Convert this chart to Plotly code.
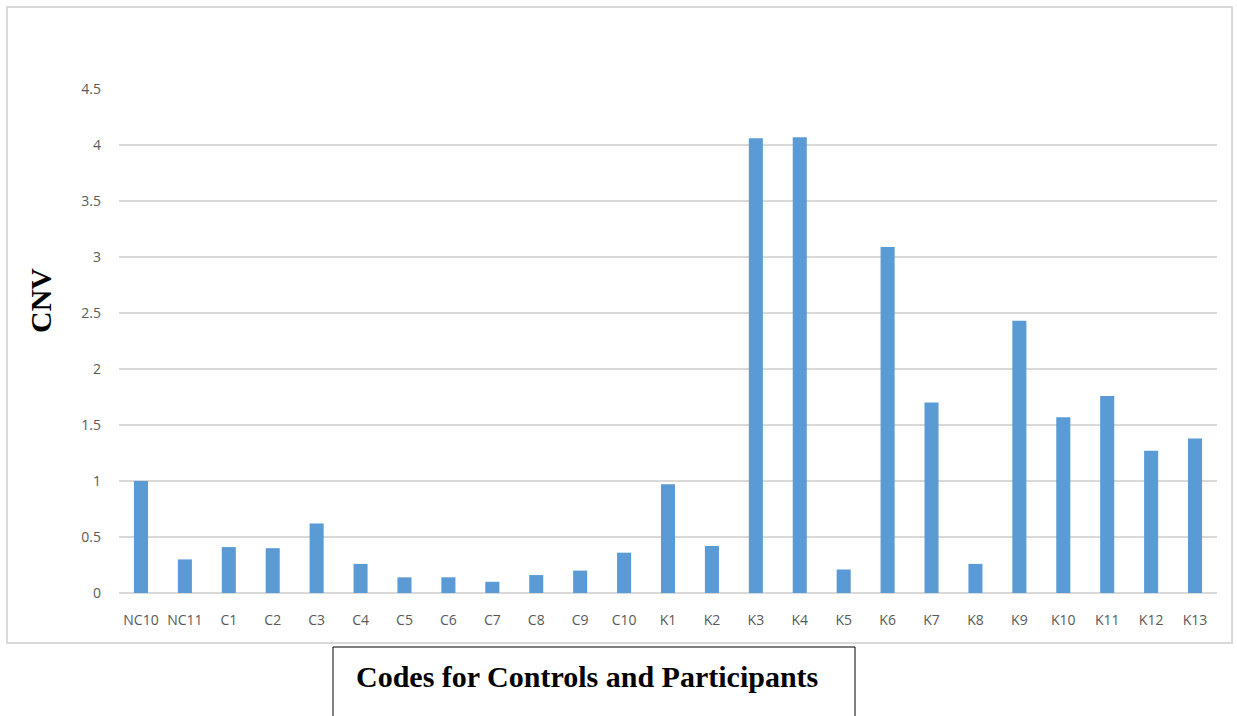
import plotly.graph_objects as go

codes = ["NC10", "NC11", "C1", "C2", "C3", "C4", "C5", "C6", "C7", "C8", "C9", "C10",
         "K1", "K2", "K3", "K4", "K5", "K6", "K7", "K8", "K9", "K10", "K11", "K12", "K13"]
cnv = [1.00, 0.30, 0.41, 0.40, 0.62, 0.26, 0.14, 0.14, 0.10, 0.16, 0.20, 0.36,
       0.97, 0.42, 4.06, 4.07, 0.21, 3.09, 1.70, 0.26, 2.43, 1.57, 1.76, 1.27, 1.38]
y_ticks = [0, 0.5, 1, 1.5, 2, 2.5, 3, 3.5, 4, 4.5]
y_tick_text = ["0", "0.5", "1", "1.5", "2", "2.5", "3", "3.5", "4", "4.5"]

W, H = 1237, 716
L, R, T, B = 119, 20, 89, 123
pw, ph = W - L - R, H - T - B


def px_x(p):
    return (p - L) / pw


def px_y(p):
    return (H - B - p) / ph


tick_font = dict(family="Open Sans, sans-serif", size=14, color="#595959")
serif_bold = "Liberation Serif, Times New Roman, serif"

fig = go.Figure(go.Bar(
    x=codes, y=cnv,
    marker=dict(color="#5b9bd5", line=dict(width=0)),
    width=0.32,
))

fig.update_layout(
    width=W, height=H,
    margin=dict(l=L, r=R, t=T, b=B, autoexpand=False),
    paper_bgcolor="white", plot_bgcolor="white",
    showlegend=False,
    xaxis=dict(
        type="category", showgrid=False, showline=False, ticks="",
        tickfont=tick_font, ticklabelstandoff=17, zeroline=False,
        range=[-0.5, len(codes) - 0.5],
    ),
    yaxis=dict(
        range=[0, 4.5], tickvals=y_ticks, ticktext=y_tick_text,
        showgrid=True, gridcolor="#d9d9d9", gridwidth=1.5,
        zeroline=True, zerolinecolor="#d9d9d9", zerolinewidth=1.5,
        showline=False, ticks="", tickfont=tick_font, ticklabelstandoff=17,
    ),
    shapes=[
        # outer chart border
        dict(type="rect", xref="paper", yref="paper",
             x0=px_x(7), x1=px_x(1232), y0=px_y(643), y1=px_y(7),
             line=dict(color="#d9d9d9", width=2), layer="below"),
        # caption box below the axis
        dict(type="rect", xref="paper", yref="paper",
             x0=px_x(333), x1=px_x(855), y0=px_y(647), y1=px_y(740),
             line=dict(color="black", width=1)),
    ],
    annotations=[
        dict(text="<b>CNV</b>", xref="paper", yref="paper",
             x=px_x(40), y=px_y(301), textangle=-90, showarrow=False,
             font=dict(family=serif_bold, size=30, color="black"),
             xanchor="center", yanchor="middle"),
        dict(text="<b>Codes for Controls and Participants</b>", xref="paper", yref="paper",
             x=px_x(587), y=px_y(676), showarrow=False,
             font=dict(family=serif_bold, size=30, color="black"),
             xanchor="center", yanchor="middle"),
    ],
)

fig.write_html("out.html")
